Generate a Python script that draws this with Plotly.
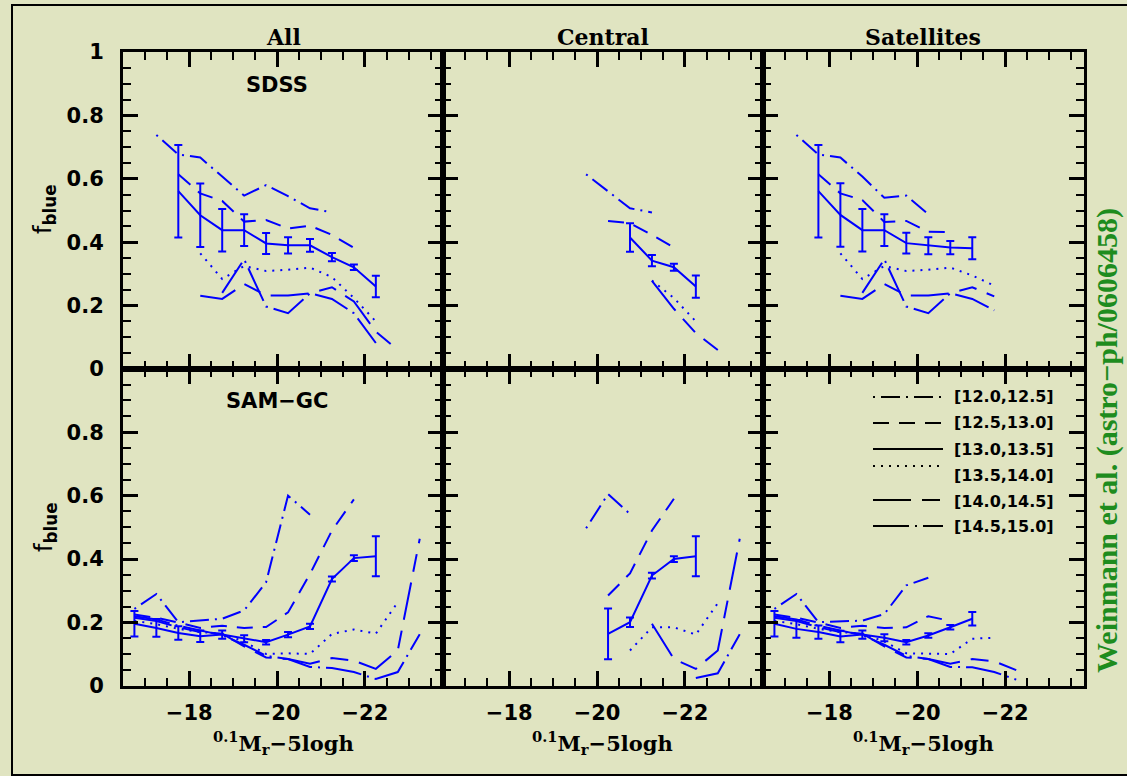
import plotly.graph_objects as go

# ------------------------------------------------------------------ data
BINS = ["[12.0,12.5]", "[12.5,13.0]", "[13.0,13.5]", "[13.5,14.0]", "[14.0,14.5]", "[14.5,15.0]"]
COL_TITLES = ["All", "Central", "Satellites"]
ROW_LABELS = ["SDSS", "SAM\u2212GC"]
X_TICKS = [-18, -20, -22]

# --- SDSS, All
A_1200_M = [-17.25, -17.75, -18.25, -18.75, -19.25, -19.75, -20.25, -20.75, -21.25]
A_1200_F = [0.738, 0.677, 0.667, 0.607, 0.547, 0.580, 0.545, 0.507, 0.494]
A_1250_M = [-17.75, -18.25, -18.75, -19.25, -19.75, -20.25, -20.75, -21.25, -21.75]
A_1250_F = [0.614, 0.554, 0.530, 0.465, 0.470, 0.443, 0.452, 0.423, 0.382]
A_1300_M = [-17.75, -18.25, -18.75, -19.25, -19.75, -20.25, -20.75, -21.25, -21.75, -22.25]
A_1300_F = [0.561, 0.485, 0.438, 0.438, 0.396, 0.390, 0.390, 0.353, 0.321, 0.260]
A_1300_E = [0.146, 0.100, 0.067, 0.050, 0.033, 0.026, 0.020, 0.013, 0.009, 0.034]
A_1350_M = [-18.25, -18.75, -19.25, -19.75, -20.25, -20.75, -21.25, -21.75, -22.25]
A_1350_F = [0.365, 0.284, 0.325, 0.309, 0.313, 0.320, 0.290, 0.224, 0.150]
A_1400_M = [-18.25, -18.75, -19.25, -19.75, -20.25, -20.75, -21.25, -21.75, -22.25, -22.75]
A_1400_F = [0.231, 0.221, 0.268, 0.232, 0.232, 0.239, 0.258, 0.213, 0.118, 0.060]
A_1450_M = [-18.75, -19.25, -19.75, -20.25, -20.75, -21.25, -21.75, -22.25]
A_1450_F = [0.240, 0.346, 0.197, 0.176, 0.239, 0.221, 0.176, 0.082]

# --- SDSS, Central
C_1200_M = [-19.75, -20.25, -20.75, -21.25]
C_1200_F = [0.614, 0.560, 0.507, 0.494]
C_1250_M = [-20.25, -20.75, -21.25, -21.75]
C_1250_F = [0.467, 0.460, 0.423, 0.383]
C_1300_M = [-20.75, -21.25, -21.75, -22.25]
C_1300_F = [0.415, 0.342, 0.321, 0.260]
C_1300_E = [0.045, 0.018, 0.011, 0.035]
C_1350_M = [-21.25, -21.75, -22.25]
C_1350_F = [0.279, 0.224, 0.150]
C_1400_M = [-21.25, -21.75, -22.25, -22.75]
C_1400_F = [0.278, 0.190, 0.113, 0.060]

# --- SDSS, Satellites
S_1200_M = [-17.25, -17.75, -18.25, -18.75, -19.25, -19.75, -20.25]
S_1200_F = [0.738, 0.677, 0.667, 0.607, 0.540, 0.547, 0.488]
S_1250_M = [-17.75, -18.25, -18.75, -19.25, -19.75, -20.25, -20.75]
S_1250_F = [0.614, 0.554, 0.533, 0.464, 0.467, 0.433, 0.432]
S_1300_M = [-17.75, -18.25, -18.75, -19.25, -19.75, -20.25, -20.75, -21.25]
S_1300_F = [0.561, 0.486, 0.438, 0.438, 0.397, 0.389, 0.383, 0.381]
S_1300_E = [0.146, 0.100, 0.067, 0.050, 0.033, 0.027, 0.021, 0.035]
S_1350_M = [-18.25, -18.75, -19.25, -19.75, -20.25, -20.75, -21.25, -21.75]
S_1350_F = [0.365, 0.284, 0.325, 0.309, 0.313, 0.320, 0.295, 0.263]
S_1400_M = [-18.25, -18.75, -19.25, -19.75, -20.25, -20.75, -21.25, -21.75]
S_1400_F = [0.231, 0.221, 0.268, 0.232, 0.232, 0.239, 0.258, 0.229]
S_1450_M = [-18.75, -19.25, -19.75, -20.25, -20.75, -21.25, -21.75]
S_1450_F = [0.240, 0.346, 0.197, 0.176, 0.239, 0.221, 0.185]

# --- SAM-GC, All
G_1200_M = [-16.75, -17.25, -17.75, -18.25, -18.75, -19.25, -19.75, -20.25, -20.75]
G_1200_F = [0.243, 0.290, 0.201, 0.206, 0.212, 0.238, 0.327, 0.600, 0.540]
G_1250_M = [-16.75, -17.25, -17.75, -18.25, -18.75, -19.25, -19.75, -20.25, -20.75, -21.25, -21.75]
G_1250_F = [0.225, 0.215, 0.200, 0.183, 0.190, 0.183, 0.186, 0.232, 0.353, 0.490, 0.588]
G_1300_M = [-16.75, -17.25, -17.75, -18.25, -18.75, -19.25, -19.75, -20.25, -20.75, -21.25, -21.75, -22.25]
G_1300_F = [0.196, 0.183, 0.167, 0.157, 0.162, 0.149, 0.138, 0.162, 0.188, 0.337, 0.403, 0.409]
G_1300_E = [0.040, 0.028, 0.021, 0.018, 0.013, 0.011, 0.007, 0.008, 0.008, 0.008, 0.009, 0.063]
G_1350_M = [-16.75, -17.25, -17.75, -18.25, -18.75, -19.25, -19.75, -20.25, -20.75, -21.25, -21.75, -22.25, -22.75]
G_1350_F = [0.205, 0.195, 0.180, 0.170, 0.165, 0.140, 0.101, 0.103, 0.101, 0.164, 0.178, 0.165, 0.264]
G_1400_M = [-16.75, -17.25, -17.75, -18.25, -18.75, -19.25, -19.75, -20.25, -20.75, -21.25, -21.75, -22.25, -22.75, -23.25]
G_1400_F = [0.215, 0.205, 0.185, 0.170, 0.165, 0.125, 0.090, 0.085, 0.070, 0.088, 0.080, 0.054, 0.112, 0.464]
G_1450_M = [-16.75, -17.25, -17.75, -18.25, -18.75, -19.25, -19.75, -20.25, -20.75, -21.25, -21.75, -22.25, -22.75, -23.25]
G_1450_F = [0.220, 0.210, 0.190, 0.175, 0.160, 0.130, 0.095, 0.085, 0.060, 0.057, 0.044, 0.022, 0.044, 0.163]

# --- SAM-GC, Central
H_1200_M = [-19.75, -20.25, -20.75]
H_1200_F = [0.497, 0.605, 0.542]
H_1250_M = [-20.25, -20.75, -21.25, -21.75]
H_1250_F = [0.285, 0.355, 0.490, 0.590]
H_1300_M = [-20.25, -20.75, -21.25, -21.75, -22.25]
H_1300_F = [0.164, 0.201, 0.348, 0.400, 0.409]
H_1300_E = [0.080, 0.015, 0.009, 0.009, 0.063]
H_1350_M = [-20.75, -21.25, -21.75, -22.25, -22.75]
H_1350_F = [0.112, 0.185, 0.185, 0.162, 0.261]
H_1400_M = [-21.25, -21.75, -22.25, -22.75, -23.25]
H_1400_F = [0.196, 0.085, 0.054, 0.112, 0.464]
H_1450_M = [-22.25, -22.75, -23.25]
H_1450_F = [0.025, 0.040, 0.163]

# --- SAM-GC, Satellites
T_1200_M = [-16.75, -17.25, -17.75, -18.25, -18.75, -19.25, -19.75, -20.25]
T_1200_F = [0.243, 0.290, 0.201, 0.203, 0.206, 0.227, 0.317, 0.341]
T_1250_M = [-16.75, -17.25, -17.75, -18.25, -18.75, -19.25, -19.75, -20.25, -20.75]
T_1250_F = [0.225, 0.215, 0.200, 0.183, 0.190, 0.183, 0.185, 0.220, 0.205]
T_1300_M = [-16.75, -17.25, -17.75, -18.25, -18.75, -19.25, -19.75, -20.25, -20.75, -21.25]
T_1300_F = [0.196, 0.180, 0.170, 0.156, 0.162, 0.152, 0.138, 0.159, 0.185, 0.212]
T_1300_E = [0.040, 0.028, 0.021, 0.018, 0.013, 0.011, 0.007, 0.007, 0.007, 0.021]
T_1350_M = [-16.75, -17.25, -17.75, -18.25, -18.75, -19.25, -19.75, -20.25, -20.75, -21.25, -21.75]
T_1350_F = [0.205, 0.195, 0.180, 0.170, 0.165, 0.140, 0.103, 0.103, 0.101, 0.149, 0.152]
T_1400_M = [-16.75, -17.25, -17.75, -18.25, -18.75, -19.25, -19.75, -20.25, -20.75, -21.25, -21.75, -22.25]
T_1400_F = [0.215, 0.205, 0.185, 0.170, 0.165, 0.125, 0.090, 0.085, 0.070, 0.085, 0.078, 0.050]
T_1450_M = [-16.75, -17.25, -17.75, -18.25, -18.75, -19.25, -19.75, -20.25, -20.75, -21.25, -21.75, -22.25]
T_1450_F = [0.220, 0.210, 0.190, 0.175, 0.160, 0.130, 0.095, 0.085, 0.060, 0.059, 0.044, 0.020]

# panel -> list of (bin index, mags, fractions, errors)
PANELS = [
    [(0, A_1200_M, A_1200_F, None), (1, A_1250_M, A_1250_F, None), (2, A_1300_M, A_1300_F, A_1300_E),
     (3, A_1350_M, A_1350_F, None), (4, A_1400_M, A_1400_F, None), (5, A_1450_M, A_1450_F, None)],
    [(0, C_1200_M, C_1200_F, None), (1, C_1250_M, C_1250_F, None), (2, C_1300_M, C_1300_F, C_1300_E),
     (3, C_1350_M, C_1350_F, None), (4, C_1400_M, C_1400_F, None)],
    [(0, S_1200_M, S_1200_F, None), (1, S_1250_M, S_1250_F, None), (2, S_1300_M, S_1300_F, S_1300_E),
     (3, S_1350_M, S_1350_F, None), (4, S_1400_M, S_1400_F, None), (5, S_1450_M, S_1450_F, None)],
    [(0, G_1200_M, G_1200_F, None), (1, G_1250_M, G_1250_F, None), (2, G_1300_M, G_1300_F, G_1300_E),
     (3, G_1350_M, G_1350_F, None), (4, G_1400_M, G_1400_F, None), (5, G_1450_M, G_1450_F, None)],
    [(0, H_1200_M, H_1200_F, None), (1, H_1250_M, H_1250_F, None), (2, H_1300_M, H_1300_F, H_1300_E),
     (3, H_1350_M, H_1350_F, None), (4, H_1400_M, H_1400_F, None), (5, H_1450_M, H_1450_F, None)],
    [(0, T_1200_M, T_1200_F, None), (1, T_1250_M, T_1250_F, None), (2, T_1300_M, T_1300_F, T_1300_E),
     (3, T_1350_M, T_1350_F, None), (4, T_1400_M, T_1400_F, None), (5, T_1450_M, T_1450_F, None)],
]

# ------------------------------------------------------------------ styles
W, H = 1127, 776
BG = "rgb(224,228,193)"
BLUE = "#0000ff"
GREEN = "rgb(30,140,30)"
DASHES = ["2px,6px,19px,6px",     # dot - short dash
          "16px,10px",            # short dash
          "solid",
          "2px,6px",              # dotted
          "38px,11px,18px,11px",  # long dash - short dash
          "36px,6px,2px,6px"]     # long dash - dot

COLS = [(123, 443), (443, 763), (763, 1083.5)]
ROWS = [(52, 369), (369, 686)]
XRANGE = [-16.49, -23.78]
TICKFONT = dict(family="DejaVu Sans", size=21, color="black", weight="bold")


def fx(p):
    return p / W


def fy(p):
    return 1 - p / H


fig = go.Figure()
layout = dict(
    width=W, height=H, paper_bgcolor=BG, plot_bgcolor=BG, autosize=False,
    margin=dict(l=0, r=0, t=0, b=0, pad=0, autoexpand=False), showlegend=False,
    shapes=[], annotations=[],
)

for k in range(6):
    r, c = divmod(k, 3)
    n = k + 1
    sfx = "" if n == 1 else str(n)
    xa = dict(
        domain=[fx(COLS[c][0]), fx(COLS[c][1])], anchor="y" + sfx,
        range=XRANGE, tickmode="array", tickvals=X_TICKS,
        showticklabels=(r == 1), ticks="inside", ticklen=15, tickwidth=2.5,
        tickcolor="black", showline=True, linewidth=3, linecolor="black",
        mirror="allticks", showgrid=False, zeroline=False, automargin=False,
        minor=dict(dtick=0.5, tick0=0, ticks="inside", ticklen=8, tickwidth=2, tickcolor="black", showgrid=False),
        tickfont=TICKFONT, ticklabelstandoff=6,
    )
    ya = dict(
        domain=[fy(ROWS[r][1]), fy(ROWS[r][0])], anchor="x" + sfx,
        range=[0, 1] if r == 0 else [0, 0.999], dtick=0.2, tick0=0,
        showticklabels=(c == 0), ticks="inside", ticklen=15, tickwidth=2.5,
        tickcolor="black", showline=True, linewidth=3, linecolor="black",
        mirror="allticks", showgrid=False, zeroline=False, automargin=False,
        minor=dict(dtick=0.05, tick0=0, ticks="inside", ticklen=8, tickwidth=2, tickcolor="black", showgrid=False),
        tickfont=TICKFONT, ticklabelstandoff=12,
    )
    layout["xaxis" + sfx] = xa
    layout["yaxis" + sfx] = ya

    for (b, mags, fr, err) in PANELS[k]:
        tr = go.Scatter(
            x=mags, y=fr, mode="lines", xaxis="x" + sfx, yaxis="y" + sfx,
            line=dict(color=BLUE, width=2, dash=DASHES[b]), hoverinfo="skip",
        )
        if err is not None:
            tr.error_y = dict(type="data", array=err, visible=True, color=BLUE, thickness=2, width=4)
        fig.add_trace(tr)

ann = layout["annotations"]
# column titles and x-axis titles
for c, t in enumerate(COL_TITLES):
    xc = fx((COLS[c][0] + COLS[c][1]) / 2)
    ann.append(dict(x=xc, y=fy(37), xref="paper", yref="paper",
                    text=t, showarrow=False, xanchor="center", yanchor="middle",
                    font=dict(family="DejaVu Serif", size=22, color="black", weight="bold")))
    ann.append(dict(x=xc, y=fy(743), xref="paper", yref="paper",
                    text="<sup>0.1</sup>M<sub>r</sub>\u22125logh", showarrow=False,
                    xanchor="center", yanchor="middle",
                    font=dict(family="DejaVu Serif", size=21, color="black", weight="bold")))
# row labels and y-axis titles
for r, t in enumerate(ROW_LABELS):
    ann.append(dict(x=fx(277), y=fy([85, 401][r]), xref="paper", yref="paper", text=t,
                    showarrow=False, xanchor="center", yanchor="middle",
                    font=dict(family="DejaVu Sans", size=21, color="black", weight="bold")))
    ann.append(dict(x=fx(45), y=fy([209, 527][r]), xref="paper", yref="paper",
                    text="f<sub><b>blue</b></sub>", textangle=-90, showarrow=False,
                    xanchor="center", yanchor="middle",
                    font=dict(family="DejaVu Sans", size=24, color="black")))

# legend (bottom-right panel)
LEG_TEXT_Y = [397, 423, 449, 475, 501, 526]
LEG_LINE_Y = [397, 423, 449, 466, 500, 526]
for i, lab in enumerate(BINS):
    layout["shapes"].append(dict(type="line", xref="paper", yref="paper",
                                 x0=fx(873), x1=fx(943), y0=fy(LEG_LINE_Y[i]), y1=fy(LEG_LINE_Y[i]),
                                 line=dict(color="black", width=2, dash=DASHES[i])))
    ann.append(dict(x=fx(952), y=fy(LEG_TEXT_Y[i]), xref="paper", yref="paper", text=lab,
                    showarrow=False, xanchor="left", yanchor="middle",
                    font=dict(family="DejaVu Sans", size=16, color="black", weight="bold")))

# outer frame
layout["shapes"].append(dict(type="rect", xref="paper", yref="paper",
                             x0=fx(12), x1=fx(1135), y0=fy(775), y1=fy(5),
                             line=dict(color="black", width=2), layer="below"))

# credit
ann.append(dict(x=fx(1107), y=fy(441), xref="paper", yref="paper",
                text="<b>Weinmann et al. (astro\u2212ph/0606458)</b>", textangle=-90,
                showarrow=False, xanchor="center", yanchor="middle",
                font=dict(family="Liberation Serif", size=30, color=GREEN)))

fig.update_layout(**layout)
fig.write_html("out.html", config={"displayModeBar": False})
